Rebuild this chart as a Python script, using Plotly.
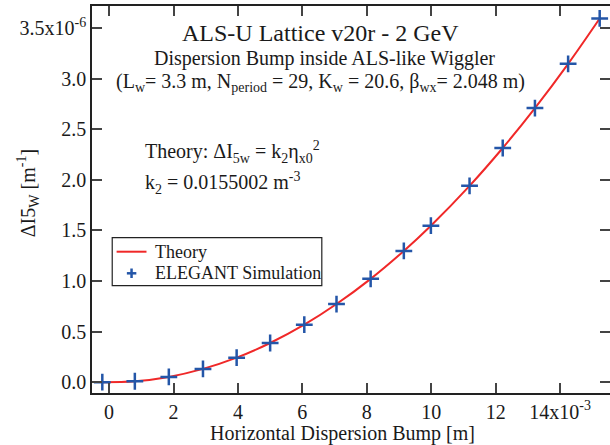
import plotly.graph_objects as go

# ---- data ----
sim_x = [-0.21e-3, 0.80e-3, 1.855e-3, 2.915e-3, 3.96e-3, 5.00e-3, 6.06e-3, 7.06e-3,
         8.12e-3, 9.15e-3, 9.99e-3, 11.19e-3, 12.22e-3, 13.22e-3, 14.25e-3, 15.23e-3]
sim_y = [0.001e-6, 0.010e-6, 0.053e-6, 0.132e-6, 0.243e-6, 0.388e-6, 0.569e-6, 0.773e-6,
         1.022e-6, 1.298e-6, 1.547e-6, 1.941e-6, 2.315e-6, 2.709e-6, 3.147e-6, 3.595e-6]
theory_x = [-0.21e-3, 0.80e-3, 1.855e-3, 2.915e-3, 3.96e-3, 5.00e-3, 6.06e-3, 7.06e-3,
            8.12e-3, 9.15e-3, 9.99e-3, 11.19e-3, 12.22e-3, 13.22e-3, 14.25e-3, 15.23e-3]
theory_y = [0.001e-6, 0.010e-6, 0.053e-6, 0.132e-6, 0.243e-6, 0.388e-6, 0.569e-6, 0.773e-6,
            1.022e-6, 1.298e-6, 1.547e-6, 1.941e-6, 2.315e-6, 2.709e-6, 3.147e-6, 3.595e-6]
x_tickvals = [0, 2e-3, 4e-3, 6e-3, 8e-3, 10e-3, 12e-3, 14e-3]
x_ticktext = ["0", "2", "4", "6", "8", "10", "12", "14x10<sup>-3</sup>"]
y_tickvals = [0, 0.5e-6, 1.0e-6, 1.5e-6, 2.0e-6, 2.5e-6, 3.0e-6, 3.5e-6]
y_ticktext = ["0.0", "0.5", "1.0", "1.5", "2.0", "2.5", "3.0", "3.5x10<sup>-6</sup>"]

FONT = "Liberation Serif"
TXT = "#1a1a1a"
RED = "#f02828"
BLUE = "#2456a8"
W, H = 612, 445
ML, MR, MT, MB = 92, 0, 6, 52
PW, PH = W - ML - MR, H - MT - MB


def px(x):
    return (x - ML) / PW


def py(y):
    return (H - MB - y) / PH


fig = go.Figure()
fig.add_trace(go.Scatter(
    x=theory_x, y=theory_y, mode="lines", name="Theory",
    line=dict(color=RED, width=2, shape="spline"),
))
fig.add_trace(go.Scatter(
    x=sim_x, y=sim_y, mode="markers", name="ELEGANT Simulation",
    marker=dict(symbol="cross-thin", size=12, line=dict(color=BLUE, width=2.5), color=BLUE),
))

axis_common = dict(
    showline=True, linecolor="#222", linewidth=1.5, mirror="allticks",
    ticks="inside", ticklen=10, tickwidth=1.5, tickcolor="#444",
    showgrid=False, zeroline=False,
    tickfont=dict(family=FONT, size=20, color=TXT),
)

fig.update_layout(
    width=W, height=H,
    margin=dict(l=ML, r=MR, t=MT, b=MB),
    paper_bgcolor="white", plot_bgcolor="white",
    font=dict(family=FONT, size=20, color=TXT),
    xaxis=dict(range=[-0.53e-3, 15.55e-3], tickmode="array",
               tickvals=x_tickvals, ticktext=x_ticktext, **axis_common),
    yaxis=dict(range=[-0.106e-6, 3.718e-6], tickmode="array",
               tickvals=y_tickvals, ticktext=y_ticktext, **axis_common),
    showlegend=False,
)

# ---- legend drawn as a box with samples (layout decoration) ----
fig.add_shape(type="rect", xref="paper", yref="paper",
              x0=px(112.3), x1=px(322.7), y0=py(285.7), y1=py(237.7),
              line=dict(color="#222", width=1.2), fillcolor="white", layer="above")
fig.add_shape(type="line", xref="paper", yref="paper",
              x0=px(116.7), x1=px(146.7), y0=py(251.7), y1=py(251.7),
              line=dict(color=RED, width=2), layer="above")
fig.add_shape(type="line", xref="paper", yref="paper",
              x0=px(127), x1=px(136.5), y0=py(273.3), y1=py(273.3),
              line=dict(color=BLUE, width=2.5), layer="above")
fig.add_shape(type="line", xref="paper", yref="paper",
              x0=px(131.7), x1=px(131.7), y0=py(268.5), y1=py(278),
              line=dict(color=BLUE, width=2.5), layer="above")

annos = [
    dict(text="ALS-U Lattice v20r - 2 GeV", x=px(321.5), y=py(33), size=24, xanchor="center"),
    dict(text="Dispersion Bump inside ALS-like Wiggler", x=px(325), y=py(59), size=20, xanchor="center"),
    dict(text="(L<sub>w</sub>= 3.3 m, N<sub>period</sub> = 29, K<sub>w</sub> = 20.6, β<sub>wx</sub>= 2.048 m)",
         x=px(321.5), y=py(83), size=20, xanchor="center"),
    dict(text="Theory: ΔI<sub>5w</sub> = k<sub>2</sub>η<sub>x0</sub><sup>2</sup>", x=px(143), y=py(152), size=20, xanchor="left"),
    dict(text="k<sub>2</sub> = 0.0155002 m<sup>-3</sup>", x=px(143), y=py(183), size=20, xanchor="left"),
    dict(text="Horizontal Dispersion Bump [m]", x=px(343), y=py(433), size=20, xanchor="center"),
    dict(text="Theory", x=px(153.5), y=py(251.7), size=18, xanchor="left"),
    dict(text="ELEGANT Simulation", x=px(153.5), y=py(272.7), size=18, xanchor="left"),
]
for a in annos:
    fig.add_annotation(text=a["text"], x=a["x"], y=a["y"], xref="paper", yref="paper",
                       xanchor=a["xanchor"], yanchor="middle", showarrow=False,
                       font=dict(family=FONT, size=a["size"], color=TXT))

fig.add_annotation(text="ΔI5<sub>W</sub> [m<sup>-1</sup>]", x=px(28), y=py(193),
                   xref="paper", yref="paper", textangle=-90, showarrow=False,
                   xanchor="center", yanchor="middle",
                   font=dict(family=FONT, size=20, color=TXT))

fig.write_html("out.html", config={"displayModeBar": False},
               post_script="document.body.style.margin='0px';document.body.style.overflow='hidden';")
